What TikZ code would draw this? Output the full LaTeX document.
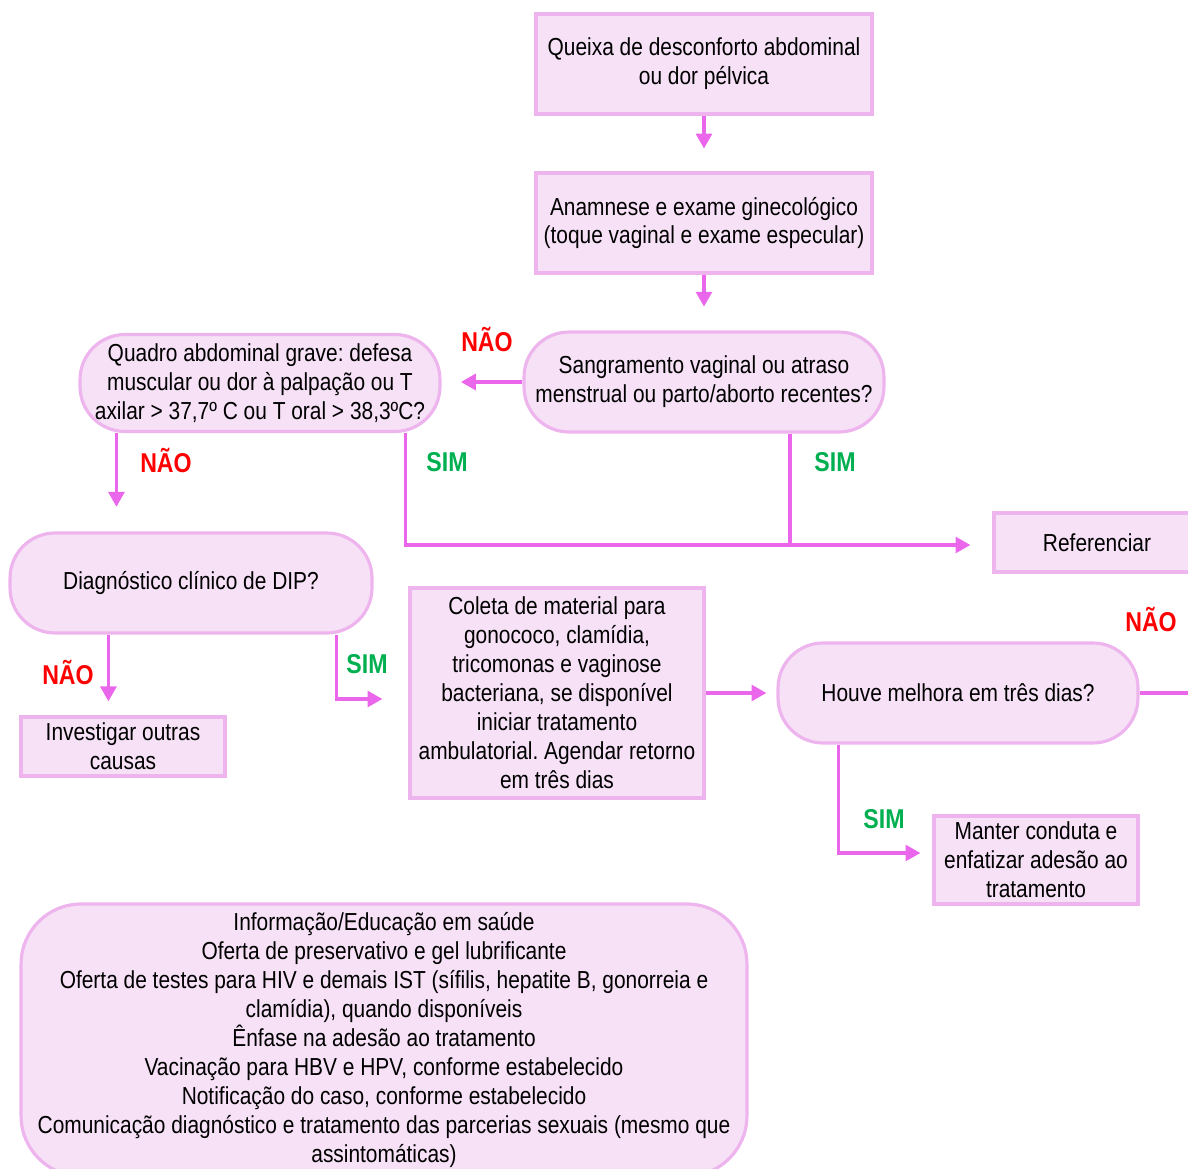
\documentclass[tikz,border=0pt]{standalone}
\usepackage{fontspec}
\setmainfont[FakeStretch=0.85]{Liberation Sans}
\usetikzlibrary{arrows.meta}
\frenchspacing
\definecolor{boxfill}{RGB}{246,225,246}
\definecolor{boxline}{RGB}{238,180,238}
\definecolor{linkcol}{RGB}{234,102,234}
\definecolor{naocol}{RGB}{255,0,0}
\definecolor{simcol}{RGB}{0,176,80}
\tikzset{
	box/.style={draw=boxline, fill=boxfill, line width=1.8pt, inner sep=0pt, align=center, font=\fontsize{14}{16.5}\selectfont},
	roundbox/.style={box, rounded corners=0.9cm},
	line/.style={draw=linkcol, line width=2pt},
	link/.style={line, -{Triangle[length=8.5pt,width=9pt]}},
	nao/.style={text=naocol, font=\fontsize{15.5}{18}\selectfont\bfseries},
	sim/.style={text=simcol, font=\fontsize{15.5}{18}\selectfont\bfseries}
}
\begin{document}
\begin{tikzpicture}[x=0.02cm, y=-0.02cm]
	\useasboundingbox (0,0) rectangle (1188,1169);
	\clip (0,0) rectangle (1188,1169);
	\node[box, minimum width=6.72cm, minimum height=2cm] (queixa) at (704,64) {Queixa de desconforto abdominal\\ou dor pélvica};
	\node[box, minimum width=6.72cm, minimum height=2cm] (anamnese) at (704,223) {Anamnese e exame ginecológico\\(toque vaginal e exame especular)};
	\node[roundbox, minimum width=7.2cm, minimum height=2cm] (sangra) at (704,382) {Sangramento vaginal ou atraso\\menstrual ou parto/aborto recentes?};
	\node[roundbox, minimum width=7.2cm, minimum height=1.94cm] (grave) at (260,383) {Quadro abdominal grave: defesa\\muscular ou dor à palpação ou T\\axilar > 37,7º C ou T oral > 38,3ºC?};
	\node[box, minimum width=4.12cm, minimum height=1.18cm] (referenciar) at (1097,542.5) {Referenciar};
	\node[roundbox, minimum width=7.24cm, minimum height=2cm] (dip) at (191,583) {Diagnóstico clínico de DIP?};
	\node[box, minimum width=4.08cm, minimum height=1.18cm] (investigar) at (123,746.5) {Investigar outras\\causas};
	\node[box, minimum width=5.88cm, minimum height=4.2cm] (coleta) at (557,693) {Coleta de material para\\gonococo, clamídia,\\tricomonas e vaginose\\bacteriana, se disponível\\iniciar tratamento\\ambulatorial. Agendar retorno\\em três dias};
	\node[roundbox, minimum width=7.2cm, minimum height=2cm] (melhora) at (958,693) {Houve melhora em três dias?};
	\node[box, minimum width=4.08cm, minimum height=1.76cm] (manter) at (1036,860) {Manter conduta e\\enfatizar adesão ao\\tratamento};
	\node[roundbox, rounded corners=1.2cm, minimum width=14.52cm, minimum height=5.44cm] (educacao) at (384,1040) {Informação/Educação em saúde\\Oferta de preservativo e gel lubrificante\\Oferta de testes para HIV e demais IST (sífilis, hepatite B, gonorreia e\\clamídia), quando disponíveis\\Ênfase na adesão ao tratamento\\Vacinação para HBV e HPV, conforme estabelecido\\Notificação do caso, conforme estabelecido\\Comunicação diagnóstico e tratamento das parcerias sexuais (mesmo que\\assintomáticas)};
	\coordinate (saida) at (1200,693);
	\node[nao] (nao1) at (487,340) {NÃO};
	\node[nao] (nao2) at (166,461) {NÃO};
	\node[sim] (sim1) at (447,462) {SIM};
	\node[sim] (sim2) at (835,462) {SIM};
	\node[nao] (nao3) at (68,673) {NÃO};
	\node[sim] (sim3) at (367,664) {SIM};
	\node[nao] (nao4) at (1151,620) {NÃO};
	\node[sim] (sim4) at (884,819) {SIM};
	\draw[link, shorten >=13pt] (queixa) -- (anamnese);
	\draw[link, shorten >=13.5pt] (anamnese) -- (sangra);
	\draw[link, shorten >=11pt] (sangra.west) -- (sangra.west -| grave.east);
	\draw[link, shorten >=14pt] ([xshift=.76cm]grave.south west) -- ([xshift=.76cm]grave.south west |- dip.north);
	\draw[link] ([xshift=-.72cm]grave.south east) |- ([xshift=-.44cm,yshift=-.05cm]referenciar.west);
	\draw[line] ([xshift=1.72cm]sangra.south) -- ([xshift=1.72cm,yshift=-.05cm]sangra.south |- referenciar.west);
	\draw[link, shorten >=8pt] ([xshift=2cm]dip.south west) -- ([xshift=2cm]dip.south west |- investigar.north);
	\draw[link] ([xshift=-.74cm]dip.south east) |- ([xshift=-.52cm,yshift=-.12cm]coleta.west);
	\draw[link, shorten >=5.7pt] (coleta) -- (melhora);
	\draw[line] (melhora) -- (saida);
	\draw[link] ([xshift=1.24cm]melhora.south west) |- ([xshift=-.24cm,yshift=.14cm]manter.west);
\end{tikzpicture}
\end{document}
